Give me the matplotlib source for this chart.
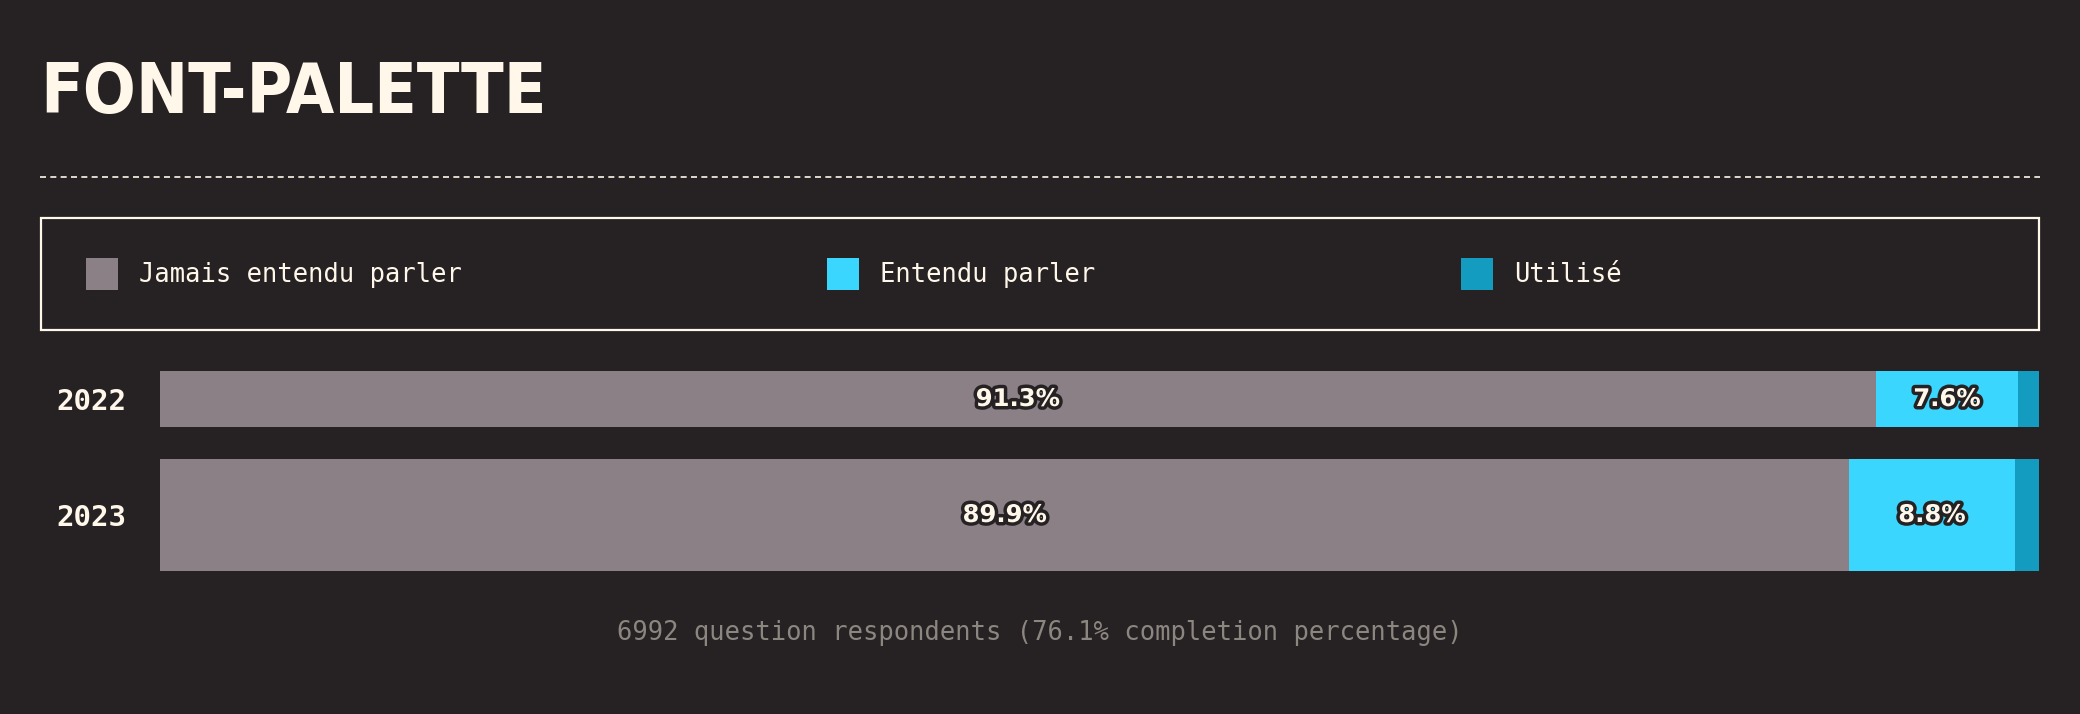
import matplotlib.pyplot as plt
import matplotlib.patheffects as pe
from matplotlib import font_manager
from matplotlib.patches import Rectangle
from matplotlib.lines import Line2D

# data
years = ["2022", "2023"]
categories = ["Jamais entendu parler", "Entendu parler", "Utilisé"]
never_heard = [91.3, 89.9]
heard = [7.6, 8.8]
used = [1.1, 1.3]
respondents = 6992
completion = 76.1

BG = "#262224"
CREAM = "#FFF7E9"
COLORS = ["#8A8085", "#3AD6FE", "#139CC0"]
MONO = "DejaVu Sans Mono"

W, H = 2080, 714


def fx(px):
    return px / W


def fy(py):
    return 1 - py / H


def narrow_bold_font():
    # look for a condensed / narrow bold face, else Roboto bold
    for f in font_manager.fontManager.ttflist:
        name = f.fname.lower()
        if ("condensed" in name or "narrow" in name) and "bold" in name and "oblique" not in name and "italic" not in name:
            return font_manager.FontProperties(fname=f.fname)
    return font_manager.FontProperties(family="Roboto", weight="bold")


fig = plt.figure(figsize=(W / 100, H / 100), dpi=100, facecolor=BG)

# title + dashed separator
fig.text(fx(40), fy(113), "FONT-PALETTE", color=CREAM, fontproperties=narrow_bold_font(),
         fontsize=50, va="baseline")
fig.add_artist(Line2D([fx(40), fx(2040)], [fy(177), fy(177)], transform=fig.transFigure,
                      color=CREAM, lw=1.2, ls=(0, (3.6, 2.6))))

# legend box
fig.add_artist(Rectangle((fx(41), fy(330)), fx(2039) - fx(41), (330 - 218) / H,
                         transform=fig.transFigure, fill=False, ec=CREAM, lw=1.6))
legend_x = [86, 827, 1461]
for x, name, col in zip(legend_x, categories, COLORS):
    fig.add_artist(Rectangle((fx(x), fy(290)), 32 / W, 32 / H, transform=fig.transFigure,
                             fc=col, ec="none"))
    fig.text(fx(x + 53), fy(275), name, color=CREAM, fontsize=18.4, family=MONO, va="center")

# bars
ax = fig.add_axes([fx(160), fy(571), fx(2039) - fx(160), (571 - 371) / H])
ax.set_facecolor(BG)
centers = [28, 144]
thickness = [56, 112]
lefts = [0.0, 0.0]
for vals, col in zip([never_heard, heard, used], COLORS):
    ax.barh(centers, vals, height=thickness, left=lefts, color=col, linewidth=0)
    for c, l, v in zip(centers, lefts, vals):
        if v > 5:
            ax.text(l + v / 2, c, f"{v}%", ha="center", va="center", color=CREAM,
                    fontsize=17.5, fontweight="heavy",
                    path_effects=[pe.withStroke(linewidth=5, foreground=BG)])
    lefts = [l + v for l, v in zip(lefts, vals)]

ax.set_xlim(0, 100)
ax.set_ylim(200, 0)
ax.set_yticks(centers, years)
ax.set_xticks([])
ax.tick_params(axis="y", length=0, pad=24)
for lab in ax.get_yticklabels():
    lab.set_color(CREAM)
    lab.set_fontsize(21)
    lab.set_fontweight("bold")
    lab.set_family(MONO)
for s in ax.spines.values():
    s.set_visible(False)

# footer
fig.text(0.5, fy(633), f"{respondents} question respondents ({completion}% completion percentage)",
         color="#8C8680", fontsize=18.4, family=MONO, ha="center", va="center")

fig.savefig("out.png", dpi=100, facecolor=BG)
